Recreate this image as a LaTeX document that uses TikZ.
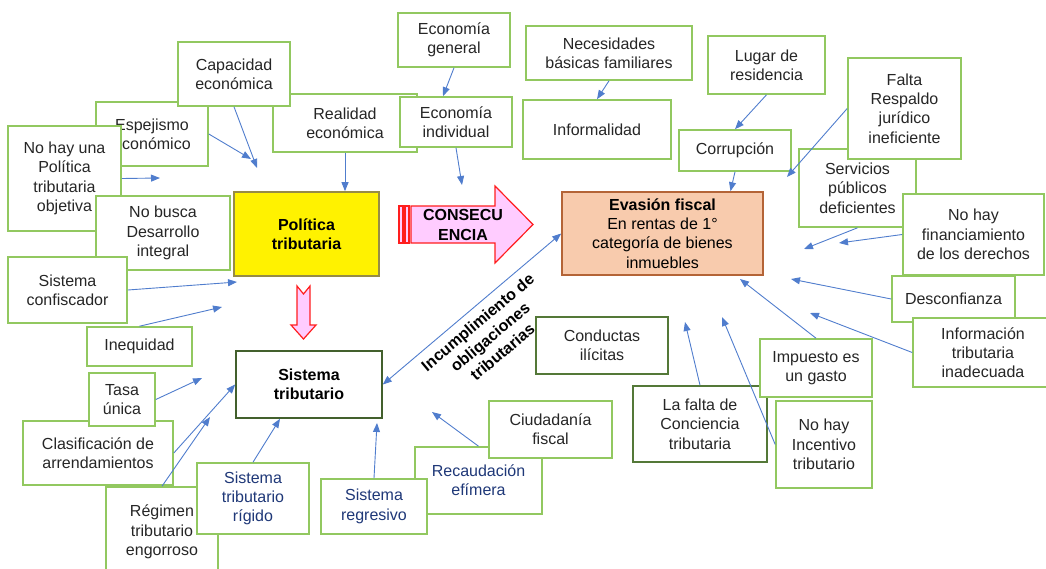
\documentclass[tikz,border=0pt]{standalone}
\usepackage{fontspec}
\setmainfont{Liberation Sans}
\usepackage{xcolor}
\usepackage{tikz}
\usetikzlibrary{arrows.meta,positioning,calc}

\definecolor{verde}{RGB}{146,200,96}
\definecolor{verdeosc}{RGB}{84,120,56}
\definecolor{azulfl}{RGB}{80,125,205}
\definecolor{azultxt}{RGB}{31,56,120}
\definecolor{texto}{RGB}{38,38,38}
\definecolor{oliva}{RGB}{150,140,70}
\definecolor{durazno}{RGB}{248,203,173}
\definecolor{marron}{RGB}{180,100,55}
\definecolor{rosa}{RGB}{255,204,255}
\definecolor{rojo}{RGB}{255,30,30}

\begin{document}
\begin{tikzpicture}[x=1pt,y=-1pt,
		caja/.style={draw=verde, line width=1.6pt, fill=white, text=texto, align=center, inner sep=0pt, font=\fontsize{16}{19.3}\selectfont},
		cajaosc/.style={caja, draw=verdeosc},
		cajaazul/.style={caja, text=azultxt},
		flecha/.style={draw=azulfl, line width=0.9pt, -{Triangle[length=9pt,width=7pt]}},
		doble/.style={flecha, {Triangle[length=9pt,width=7pt]}-{Triangle[length=9pt,width=7pt]}},
		rosaflecha/.style={fill=rosa, draw=rojo, line width=1.2pt}]
		\useasboundingbox (0,0) rectangle (1046,568);

		% top row
		\node[caja, minimum width=112, minimum height=54] (general) at (454,40) {Economía\\general};
		\node[caja, minimum width=166, minimum height=54] (necesidades) at (609,53) {Necesidades\\básicas familiares};
		\node[caja, minimum width=117, minimum height=58] (lugar) at (766.5,65) {Lugar de\\residencia};

		% left cluster (order gives the overlaps)
		\node[caja, minimum width=112, minimum height=64] (espejismo) at (152,134) {Espejismo\\económico};
		\node[caja, minimum width=144, minimum height=58] (realidad) at (345,123) {Realidad\\económica};
		\node[caja, minimum width=112, minimum height=64] (capacidad) at (234,74) {Capacidad\\económica};
		\node[caja, minimum width=112, minimum height=50] (individual) at (456,122) {Economía\\individual};
		\node[caja, minimum width=113, minimum height=105] (nohay) at (64.5,178.5) {No hay una\\Política\\tributaria\\objetiva};
		\node[caja, minimum width=134, minimum height=74] (nobusca) at (163,233) {No busca\\Desarrollo\\integral};
		\node[caja, minimum width=119, minimum height=66] (confiscador) at (67.5,290) {Sistema\\confiscador};

		\node[caja, minimum width=148, minimum height=59] (informalidad) at (597,129.5) {Informalidad};
		\node[caja, minimum width=112, minimum height=41] (corrupcion) at (735,150.5) {Corrupción};

		% right cluster
		\node[caja, minimum width=117, minimum height=78] (servicios) at (857.5,188) {Servicios\\públicos\\deficientes};
		\node[caja, minimum width=113, minimum height=101] (falta) at (904.5,108.5) {Falta\\Respaldo\\jurídico\\ineficiente};
		\node[caja, minimum width=141, minimum height=81] (financ) at (973.5,234.5) {No hay\\financiamiento\\de los derechos};
		\node[caja, minimum width=123, minimum height=46] (desconf) at (953.5,299) {Desconfianza};
		\node[caja, minimum width=140, minimum height=69] (info) at (983,352.5) {Información\\tributaria\\inadecuada};

		% main boxes
		\node[caja, draw=oliva, fill=yellow, text=black, font=\bfseries\fontsize{16}{19.3}\selectfont, minimum width=145, minimum height=84] (politica) at (306.5,234) {Política\\tributaria};
		\node[caja, draw=marron, fill=durazno, text=black, minimum width=201, minimum height=83] (evasion) at (662.5,233.5) {\textbf{Evasión fiscal}\\En rentas de 1°\\categoría de bienes\\inmuebles};

		% bottom left
		\node[caja, minimum width=105, minimum height=39] (inequidad) at (139.5,346.5) {Inequidad};
		\node[caja, minimum width=150, minimum height=64] (clasif) at (98,453) {Clasificación de\\arrendamientos};
		\node[caja, minimum width=66, minimum height=53] (tasa) at (122,399.5) {Tasa\\única};
		\node[caja, minimum width=112, minimum height=90] (regimen) at (162,532) {Régimen\\tributario\\engorroso};
		\node[cajaazul, minimum width=112, minimum height=71] (rigido) at (253,498.5) {Sistema\\tributario\\rígido};
		\node[caja, draw=verdeosc!80!black, text=black, font=\bfseries\fontsize{16}{19.3}\selectfont, minimum width=146, minimum height=67] (sistema) at (309,384.5) {Sistema\\tributario};

		% bottom middle
		\node[cajaazul, minimum width=127, minimum height=67] (recaudacion) at (478.5,480.5) {Recaudación\\efímera};
		\node[cajaazul, minimum width=106, minimum height=55] (regresivo) at (374,506.5) {Sistema\\regresivo};
		\node[caja, minimum width=123, minimum height=57] (ciudadania) at (550.5,429.5) {Ciudadanía\\fiscal};

		% bottom right
		\node[cajaosc, minimum width=132, minimum height=57] (conductas) at (602,345.5) {Conductas\\ilícitas};
		\node[cajaosc, minimum width=134, minimum height=76] (lafalta) at (700,424) {La falta de\\Conciencia\\tributaria};
		\node[caja, minimum width=112, minimum height=58] (impuesto) at (816,368) {Impuesto es\\un gasto};
		\node[caja, minimum width=96, minimum height=87] (incentivo) at (824,444.5) {No hay\\Incentivo\\tributario};

		% pink arrows
		\filldraw[rosaflecha] (411,206) -- (495,206) -- (495,186) -- (533,224.5) -- (495,263) -- (495,243) -- (411,243) -- cycle;
		\filldraw[rosaflecha] (399,206) rectangle (403,243);
		\filldraw[rosaflecha] (405,206) rectangle (409,243);
		\node[font=\bfseries\fontsize{16}{19.3}\selectfont, align=center, text=black] (consec) at (463,225) {CONSECU\\ENCIA};
		\filldraw[rosaflecha] (297,286) -- (303.5,294) -- (310,286) -- (310,325) -- (316,325) -- (303.5,339) -- (291,325) -- (297,325) -- cycle;

		% free arrow ends
		\coordinate (p1) at (257,168);
		\coordinate (p2) at (251,159);
		\coordinate (p3) at (160,178);
		\coordinate (p4) at (237,282);
		\coordinate (p5) at (222,307);
		\coordinate (p6) at (202,378);
		\coordinate (p7) at (210,417);
		\coordinate (p8) at (377,423);
		\coordinate (p9) at (432,412);
		\coordinate (p10) at (462,185);
		\coordinate (e1) at (787,177);
		\coordinate (e2) at (804,249);
		\coordinate (e3) at (839,243);
		\coordinate (e4) at (791,279);
		\coordinate (e5) at (810,313);
		\coordinate (e6) at (740,279);
		\coordinate (e7) at (685,322);
		\coordinate (e8) at (722,317);

		% connectors
		\draw[flecha] (capacidad.south) -- (p1);
		\draw[flecha] (espejismo.east) -- (p2);
		\draw[flecha] (nohay.east) -- (p3);
		\draw[flecha] (realidad.south) -- (realidad.south |- politica.north);
		\draw[flecha] (confiscador.east) -- (p4);
		\draw[flecha] (inequidad.north) -- (p5);
		\draw[flecha] (tasa.east) -- (p6);
		\draw[flecha] (clasif.east) -- (sistema.west);
		\draw[flecha] (regimen.north) -- (p7);
		\draw[flecha] (rigido.north) -- ([xshift=-29pt]sistema.south);
		\draw[flecha] (regresivo.north) -- (p8);
		\draw[flecha] (recaudacion.north) -- (p9);
		\draw[flecha] (general.south) -- ([xshift=-13pt]individual.north);
		\draw[flecha] (individual.south) -- (p10);
		\draw[flecha] (necesidades.south) -- (informalidad.north);
		\draw[flecha] (lugar.south) -- (corrupcion.north);
		\draw[flecha] (corrupcion.south) -- ([xshift=68pt]evasion.north);
		\draw[flecha] (falta.west) -- (e1);
		\draw[flecha] (servicios.south) -- (e2);
		\draw[flecha] (financ.west) -- (e3);
		\draw[flecha] (desconf.west) -- (e4);
		\draw[flecha] (info.west) -- (e5);
		\draw[flecha] (impuesto.north) -- (e6);
		\draw[flecha] (lafalta.north) -- (e7);
		\draw[flecha] (incentivo.west) -- (e8);
		\draw[doble] (sistema.east) -- (evasion.west);
		\node[font=\bfseries\fontsize{16}{19.3}\selectfont, align=center, text=black, rotate=40] (incump) at (490,337) {Incumplimiento de\\obligaciones\\tributarias};
	\end{tikzpicture}
\end{document}
